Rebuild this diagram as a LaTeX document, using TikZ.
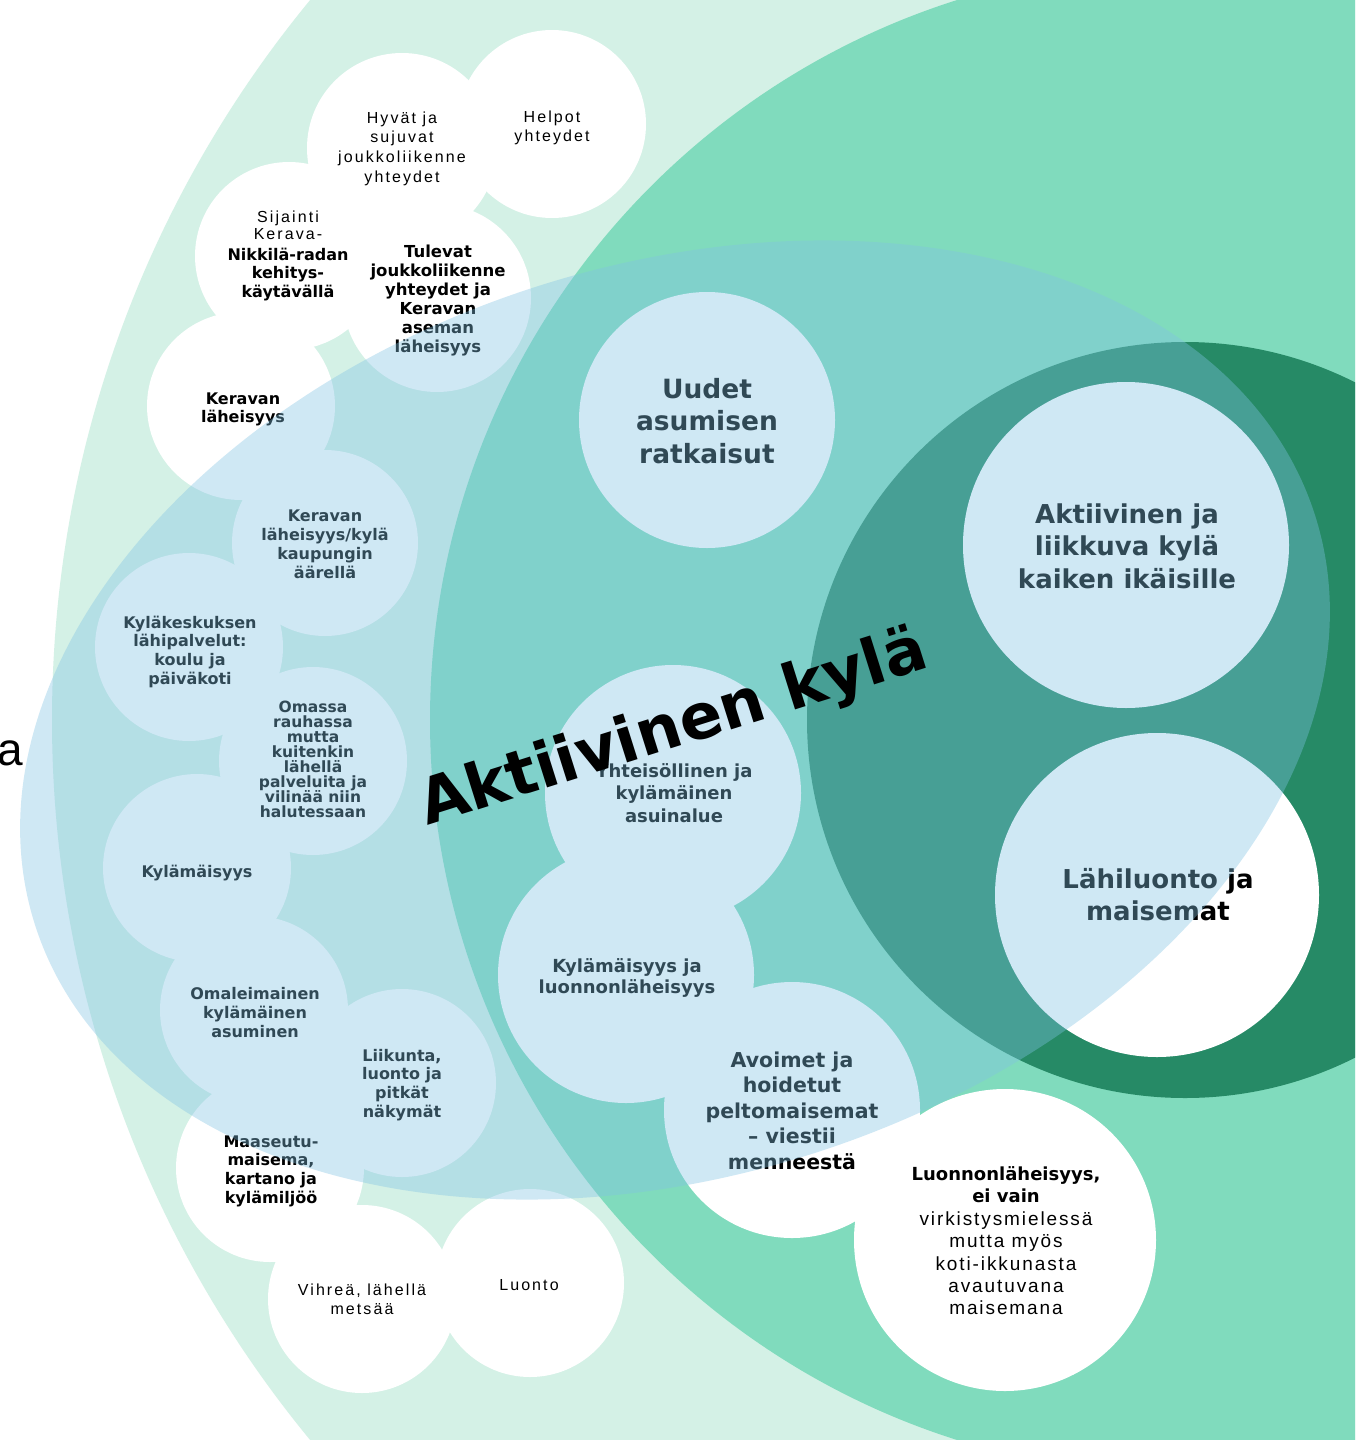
\documentclass[tikz,border=0pt]{standalone}
\usepackage{fontspec}
\setmainfont{DejaVu Sans}
\newfontfamily\lightA{Liberation Sans}[LetterSpace=13]
\newfontfamily\lightB{Liberation Sans}[LetterSpace=10]
\newfontfamily\lightC{Liberation Sans}
\definecolor{mint}{RGB}{212,241,230}
\definecolor{midgreen}{RGB}{128,219,189}
\definecolor{darkgreen}{RGB}{38,138,102}
\definecolor{veil}{RGB}{128,194,228}
\newcommand\tb[3]{\parbox[t]{420pt}{\centering\lineskiplimit=-100pt\fontsize{#1}{#2}\selectfont #3}}
\tikzset{
  txt/.style={anchor=base, inner sep=0pt, text=black},
  bubble/.style={fill=white},
}
\begin{document}
\begin{tikzpicture}[x=1pt,y=-1pt]
\useasboundingbox (0,0) rectangle (1355,1440);
\clip (0,0) rectangle (1355,1440);
\fill[white] (0,0) rectangle (1355,1440);
% background rings
\fill[mint] (1185,720) circle [radius=1133];
\fill[midgreen] (1185,720) circle [radius=755];
\fill[darkgreen] (1185,720) circle [radius=378];
% bubbles
\fill[bubble] (402,148) circle [radius=95];
\fill[bubble] (552,124) circle [radius=94];
\fill[bubble] (289,256) circle [radius=94];
\fill[bubble] (437,298) circle [radius=94];
\fill[bubble] (241,406) circle [radius=94];
\fill[bubble] (325,543) circle [radius=93];
\fill[bubble] (189,647) circle [radius=94];
\fill[bubble] (313,761) circle [radius=94];
\fill[bubble] (197,868) circle [radius=94];
\fill[bubble] (254,1010) circle [radius=94];
\fill[bubble] (402,1083) circle [radius=94];
\fill[bubble] (270,1168) circle [radius=94];
\fill[bubble] (362,1299) circle [radius=94];
\fill[bubble] (530,1283) circle [radius=94];
\fill[bubble] (707,420) circle [radius=128];
\fill[bubble] (1126,545) circle [radius=163];
\fill[bubble] (1157,895) circle [radius=162];
\fill[bubble] (673,793) circle [radius=128];
\fill[bubble] (626,975) circle [radius=128];
\fill[bubble] (792,1110) circle [radius=128];
\fill[bubble] (1005,1240) circle [radius=151];
% texts
\node[txt] (t1) at (402,123) {\tb{16}{19.7}{\lightA Hyvät ja\\sujuvat\\joukkoliikenne\\yhteydet}};
\node[txt] (t2) at (552,122.5) {\tb{16}{19}{\lightA Helpot\\yhteydet}};
\node[txt] (t3) at (288,222) {\tb{16}{18.5}{\lightA Sijainti\\[-1.5pt]Kerava-\\[2.5pt]\rmfamily\bfseries Nikkilä-radan\\kehitys-\\käytävällä}};
\node[txt] (t4) at (438,257) {\tb{16.5}{19}{\bfseries Tulevat\\joukkoliikenne\\yhteydet ja\\Keravan\\aseman\\läheisyys}};
\node[txt] (t5) at (243,404) {\tb{16}{18.5}{\bfseries Keravan\\läheisyys}};
\node[txt] (t6) at (325,521) {\tb{16}{19}{\bfseries Keravan\\läheisyys/kylä\\kaupungin\\äärellä}};
\node[txt] (t7) at (190,628) {\tb{16}{18.8}{\bfseries Kyläkeskuksen\\lähipalvelut:\\koulu ja\\päiväkoti}};
\node[txt] (t8) at (313,712) {\tb{15.5}{15}{\bfseries Omassa\\rauhassa\\mutta\\kuitenkin\\lähellä\\palveluita ja\\vilinää niin\\halutessaan}};
\node[txt] (t9) at (197,877) {\tb{16}{19}{\bfseries Kylämäisyys}};
\node[txt] (t10) at (255,999) {\tb{16}{19}{\bfseries Omaleimainen\\kylämäinen\\asuminen}};
\node[txt] (t11) at (402,1061) {\tb{16}{18.9}{\bfseries Liikunta,\\luonto ja\\pitkät\\näkymät}};
\node[txt] (t12) at (271,1147) {\tb{16}{18.7}{\bfseries Maaseutu-\\maisema,\\kartano ja\\kylämiljöö}};
\node[txt] (t13) at (362,1295) {\tb{16}{19}{\lightA Vihreä, lähellä\\metsää}};
\node[txt] (t14) at (529,1290) {\tb{16}{19}{\lightA Luonto}};
\node[txt] (t15) at (707,398) {\tb{26.5}{32.7}{\bfseries Uudet\\asumisen\\ratkaisut}};
\node[txt] (t16) at (1127,523) {\tb{26}{32.7}{\bfseries Aktiivinen ja\\liikkuva kylä\\kaiken ikäisille}};
\node[txt] (t17) at (1158,888) {\tb{26}{32}{\bfseries Lähiluonto ja\\maisemat}};
\node[txt] (t18) at (674,777) {\tb{18}{22.8}{\bfseries Yhteisöllinen ja\\kylämäinen\\asuinalue}};
\node[txt] (t19) at (627,972) {\tb{18}{21.7}{\bfseries Kylämäisyys ja\\luonnonläheisyys}};
\node[txt] (t20) at (792,1067) {\tb{20.5}{25.5}{\bfseries Avoimet ja\\hoidetut\\peltomaisemat\\– viestii\\menneestä}};
\node[txt] (t21) at (1006,1180.5) {\tb{18}{22.4}{\bfseries Luonnonläheisyys,\\ei vain\\\mdseries\fontsize{19}{22.4}\selectfont\lightB virkistysmielessä\\mutta myös\\koti-ikkunasta\\avautuvana\\maisemana}};
% translucent blue veil
\fill[veil, opacity=0.378, rotate around={17.8:(675,720)}] (675,720) ellipse [x radius=672, y radius=455];
% title
\node[anchor=base west, inner sep=0pt, rotate=17.5, text=black, font=\fontsize{63}{63}\selectfont\bfseries] (title) at (427,826) {Aktiivinen kylä};
\node[anchor=base east, inner sep=0pt, text=black, font=\fontsize{46}{46}\selectfont\lightC] (aleft) at (23,765) {a};
\end{tikzpicture}
\end{document}
